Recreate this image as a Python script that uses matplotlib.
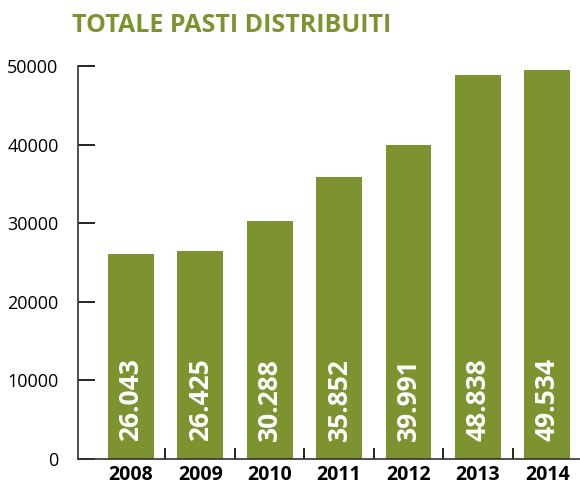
import matplotlib.pyplot as plt
import numpy as np

years = ['2008', '2009', '2010', '2011', '2012', '2013', '2014']
pasti = [26043, 26425, 30288, 35852, 39991, 48838, 49534]
value_labels = ['26.043', '26.425', '30.288', '35.852', '39.991', '48.838', '49.534']
y_ticks = [0, 10000, 20000, 30000, 40000, 50000]

GREEN = '#7d932f'


def main():
    plt.rcParams['font.family'] = ['Open Sans', 'DejaVu Sans']
    fig = plt.figure(figsize=(5.8, 4.87), dpi=100)
    ax = fig.add_axes([78 / 580, 28 / 487, 502 / 580, 393 / 487])

    x = np.arange(len(years))
    ax.bar(x, pasti, width=0.66, color=GREEN)
    for xi, lab in zip(x, value_labels):
        ax.text(xi, 2300, lab, rotation=90, ha='center', va='bottom',
                color='white', fontsize=19, fontweight='bold')

    ax.set_xlim(-0.76, 6.47)
    ax.set_ylim(0, 50000)
    ax.set_yticks(y_ticks)
    ax.set_yticklabels([str(t) for t in y_ticks], fontsize=13)
    ax.tick_params(axis='y', direction='in', length=12, width=1.2, pad=14)

    # year labels centred under the bars, small ticks between categories
    ax.set_xticks(x)
    ax.set_xticklabels(years, fontsize=14, fontweight='bold')
    ax.tick_params(axis='x', which='major', length=0, pad=4)
    ax.set_xticks(np.arange(len(years) - 1) + 0.5, minor=True)
    ax.tick_params(axis='x', which='minor', direction='in', length=8, width=1.2)

    for side in ['top', 'right']:
        ax.spines[side].set_visible(False)
    for side in ['left', 'bottom']:
        ax.spines[side].set_linewidth(1.2)
        ax.spines[side].set_color('#333333')

    fig.text(72 / 580, 1 - 25 / 487, 'TOTALE PASTI DISTRIBUITI', color=GREEN,
             fontsize=18, fontweight='bold', ha='left', va='center')

    fig.savefig('out.png', dpi=100)


if __name__ == '__main__':
    main()
